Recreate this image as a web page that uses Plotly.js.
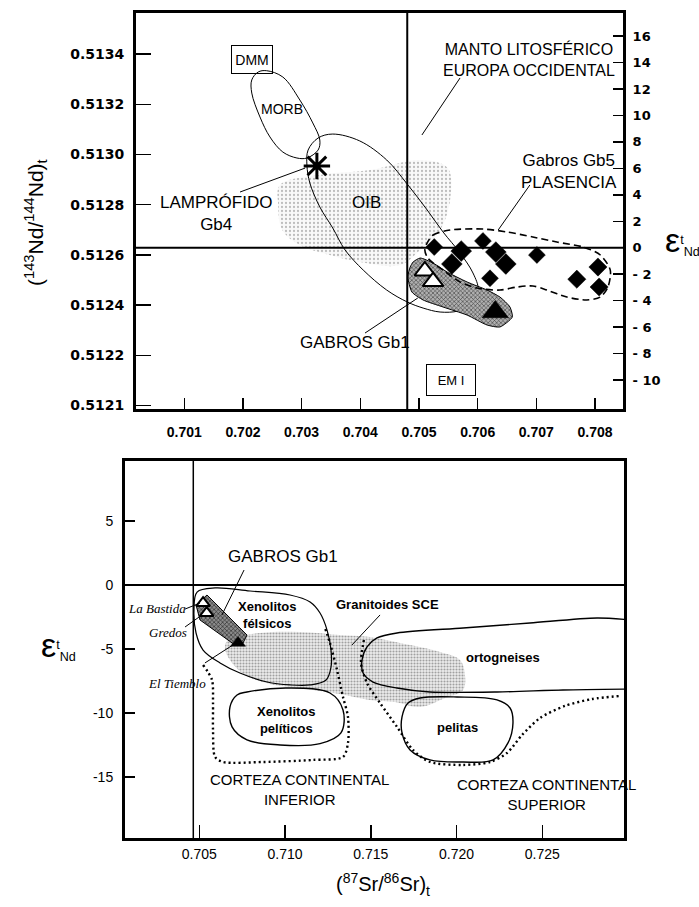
<!DOCTYPE html>
<html><head><meta charset="utf-8">
<script src="https://cdn.plot.ly/plotly-3.0.1.min.js"></script>
<style>html,body{margin:0;padding:0;background:#fff}#chart{width:699px;height:907px}</style>
</head><body><div id="chart"></div>
<script>
// ================= TOP PANEL: (87Sr/86Sr)t vs eNd (right axis) =================
const topSrTicks = [0.701,0.702,0.703,0.704,0.705,0.706,0.707,0.708];
const topSrLabels = ['0.701','0.702','0.703','0.704','0.705','0.706','0.707','0.708'];
const ndTickVals = [0.5120,0.5122,0.5124,0.5126,0.5128,0.5130,0.5132,0.5134];
const ndTickLabels = ['0.5121','0.5122','0.5124','0.5126','0.5128','0.5130','0.5132','0.5134'];
const epsTickVals = [16,14,12,10,8,6,4,2,0,-2,-4,-6,-8,-10];
const epsTickLabels = ['16','14','12','10','8','6','4','2','0','- 2','- 4','- 6','- 8','- 10'];
const chur = 0;         // eNd = 0
const urTop = 0.70480;  // vertical reference line (top)
const urBottom = 0.70465; // vertical reference line (bottom)

const morbSr  = [0.70240,0.70268,0.70297,0.70319,0.70331,0.70328,0.70309,0.70292,0.70268,0.70246,0.70229,0.70215,0.70215,0.70226,0.70240];
const morbEps = [13.38,12.90,11.16,9.43,8.14,7.38,6.78,6.78,7.23,8.37,9.88,11.69,12.68,13.28,13.38];

const oibSr  = [0.70311,0.70328,0.70353,0.70399,0.70445,0.70480,0.70514,0.70541,0.70570,0.70592,0.70601,0.70590,0.70567,0.70536,0.70507,0.70480,0.70445,0.70405,0.70374,0.70353,0.70331,0.70314,0.70309,0.70311];
const oibEps = [7.38,8.29,8.59,8.07,6.63,4.81,2.85,1.19,-0.40,-1.91,-3.20,-4.26,-4.78,-4.86,-4.56,-4.10,-3.20,-1.69,-0.17,1.49,3.08,4.89,6.25,7.38];

const stipSr  = [0.70263,0.70331,0.70417,0.70502,0.70549,0.70553,0.70536,0.70502,0.70468,0.70399,0.70348,0.70297,0.70267,0.70260,0.70263];
const stipEps = [4.74,5.50,5.87,6.63,6.02,3.61,1.34,-0.17,-1.31,-1.08,-0.55,0.20,1.34,3.23,4.74];

const gb5EnvSr  = [0.70514,0.70524,0.70553,0.70609,0.70650,0.70694,0.70735,0.70780,0.70809,0.70826,0.70822,0.70809,0.70786,0.70752,0.70718,0.70694,0.70667,0.70638,0.70599,0.70570,0.70541,0.70515,0.70510,0.70514];
const gb5EnvEps = [0.36,0.96,1.34,1.41,1.19,0.81,0.43,0.05,-0.55,-1.69,-2.97,-3.73,-3.95,-3.73,-3.20,-2.89,-2.97,-3.20,-3.05,-2.59,-1.69,-0.78,-0.17,0.36];

const gb5Sr  = [0.70526,0.70572,0.70556,0.70609,0.70631,0.70648,0.70621,0.70701,0.70769,0.70805,0.70807];
const gb5Eps = [0.05,-0.25,-1.23,0.51,-0.33,-1.23,-2.31,-0.55,-2.38,-1.46,-2.97];

const gb1TopSr  = [0.70490,0.70502,0.70524,0.70548,0.70582,0.70616,0.70638,0.70655,0.70659,0.70638,0.70616,0.70582,0.70541,0.70507,0.70488,0.70481,0.70485,0.70490];
const gb1TopEps = [-1.08,-0.78,-1.16,-1.84,-2.59,-3.20,-3.73,-4.48,-5.24,-5.99,-5.84,-5.09,-4.48,-3.95,-3.35,-2.21,-1.46,-1.08];

const gb1OpenTopSr = [0.70510,0.70524];
const gb1OpenTopEps = [-1.76,-2.56];
const gb1FilledTopSr = [0.70630];
const gb1FilledTopEps = [-4.86];

const lampSr = [0.70326];
const lampEps = [6.18];

// ================= BOTTOM PANEL =================
const botSrTicks = [0.705,0.710,0.715,0.720,0.725];
const botSrLabels = ['0.705','0.710','0.715','0.720','0.725'];
const botEpsTicks = [5,0,-5,-10,-15];
const botEpsLabels = ['5','0','-5','-10','-15'];

const felsSr  = [0.70487,0.70592,0.70796,0.71029,0.71146,0.71204,0.71245,0.71268,0.71268,0.71239,0.71146,0.71029,0.70895,0.70737,0.70621,0.70522,0.70481,0.70469,0.70487];
const felsEps = [-0.55,-0.23,-0.47,-0.78,-1.33,-2.19,-3.52,-5.08,-6.41,-7.42,-7.81,-7.81,-7.58,-6.88,-6.09,-5.08,-3.75,-1.95,-0.55];

const granSr  = [0.70667,0.70854,0.71087,0.71320,0.71495,0.71670,0.71904,0.72020,0.72049,0.72038,0.71933,0.71787,0.71641,0.71495,0.71320,0.71087,0.70912,0.70766,0.70679,0.70650,0.70667];
const granEps = [-4.30,-3.75,-3.67,-3.91,-4.06,-4.53,-5.23,-5.86,-7.03,-8.20,-8.83,-9.53,-9.14,-8.98,-8.52,-8.05,-7.73,-7.03,-5.86,-4.92,-4.30];

const ortoSr  = [0.7302,0.72819,0.72428,0.72038,0.71653,0.71536,0.71478,0.71449,0.71455,0.71513,0.71653,0.71845,0.72236,0.72621,0.7302];
const ortoEps = [-2.73,-2.58,-2.97,-3.36,-3.75,-4.14,-4.84,-5.86,-6.88,-7.58,-8.05,-8.36,-8.36,-8.20,-8.13];

const pelitSr  = [0.70778,0.71011,0.71262,0.71338,0.71326,0.71204,0.70971,0.70778,0.70691,0.70679,0.70720,0.70778];
const pelitEps = [-8.36,-8.05,-8.44,-9.77,-11.56,-12.40,-12.50,-12.10,-11.09,-9.53,-8.59,-8.36];

const pelSr  = [0.71787,0.72003,0.72236,0.72312,0.72329,0.72300,0.72213,0.72038,0.71845,0.71729,0.71682,0.71682,0.71717,0.71787];
const pelEps = [-8.83,-8.75,-8.98,-9.61,-10.78,-12.34,-13.67,-13.83,-13.67,-12.89,-11.56,-10.31,-9.22,-8.83];

const cciSr  = [0.70522,0.70574,0.70580,0.70580,0.70592,0.70638,0.70871,0.71163,0.71338,0.71367,0.71367,0.71338,0.71303,0.71262,0.71233];
const cciEps = [-6.25,-7.42,-9.22,-11.33,-13.44,-13.83,-13.83,-13.67,-13.44,-12.34,-10.31,-8.75,-6.64,-4.53,-3.36];

const ccsSr  = [0.71460,0.71443,0.71478,0.71554,0.71653,0.71746,0.71845,0.72038,0.72195,0.72294,0.72382,0.72487,0.72632,0.72790,0.72953];
const ccsEps = [-4.30,-6.09,-7.66,-9.22,-11.09,-12.89,-13.83,-14.06,-13.83,-13.13,-11.72,-10.39,-9.45,-8.91,-8.67];

const gb1BotSr  = [0.70545,0.70778,0.70755,0.70708,0.70504,0.70481,0.70545];
const gb1BotEps = [-0.78,-3.91,-4.53,-4.69,-2.73,-1.56,-0.78];

const gb1OpenBotSr = [0.70522,0.70543];
const gb1OpenBotEps = [-1.41,-2.19];
const gb1FilledBotSr = [0.70726];
const gb1FilledBotEps = [-4.53];

// ================= traces =================
const SANS = 'Liberation Sans, Arial, sans-serif';
const T = {xaxis:'x', yaxis:'y2'};
const B = {xaxis:'x2', yaxis:'y3'};
function poly(ax, xs, ys, o){
  return Object.assign({type:'scatter', mode:'lines', x:xs, y:ys, hoverinfo:'skip', showlegend:false}, ax, o);
}
function pts(ax, xs, ys, marker){
  return Object.assign({type:'scatter', mode:'markers', x:xs, y:ys, hoverinfo:'skip', showlegend:false, opacity:1,
    marker:Object.assign({opacity:1}, marker)}, ax);
}
const DOTS = '2px,3px';
const traces = [
  // empty trace so that the Nd (left) axis subplot exists
  {type:'scatter', mode:'markers', x:[], y:[], xaxis:'x', yaxis:'y', showlegend:false, hoverinfo:'skip'},
  // top stipple
  poly(T, stipSr, stipEps, {fill:'toself', fillcolor:'rgba(238,238,238,0.5)', line:{width:0, shape:'spline'},
      fillpattern:{shape:'.', fgcolor:'#bdbdbd', bgcolor:'rgba(244,244,244,0.5)', size:4, solidity:0.25}}),
  poly(T, morbSr, morbEps, {line:{color:'#000', width:1, shape:'spline', smoothing:1}}),
  poly(T, oibSr, oibEps, {line:{color:'#000', width:1, shape:'spline', smoothing:1}}),
  poly(T, gb1TopSr, gb1TopEps, {fill:'toself', fillcolor:'#a0a0a0', line:{color:'#000', width:1, shape:'spline', smoothing:0.6},
      fillpattern:{shape:'x', fgcolor:'#3a3a3a', bgcolor:'#b0b0b0', size:3, solidity:0.35}}),
  poly(T, gb5EnvSr, gb5EnvEps, {line:{color:'#000', width:1.6, dash:'7px,4px', shape:'spline', smoothing:0.8}}),
  pts(T, gb5Sr, gb5Eps, {symbol:'diamond', color:'#000', size:[13,16,16,13,16,16,13,13,14,14,14], line:{color:'#000', width:0.5}}),
  pts(T, gb1OpenTopSr, gb1OpenTopEps, {symbol:'triangle-up', color:'#fff', size:18, line:{color:'#000', width:2}}),
  pts(T, gb1FilledTopSr, gb1FilledTopEps, {symbol:'triangle-up', color:'#000', size:23, line:{color:'#000', width:0.5}}),
  pts(T, lampSr, lampEps, {symbol:'asterisk-open', color:'#000', size:22, line:{color:'#000', width:3}}),

  // bottom
  poly(B, granSr, granEps, {fill:'toself', fillcolor:'rgba(210,210,210,0.6)', line:{width:0, shape:'spline'},
      fillpattern:{shape:'.', fgcolor:'#a0a0a0', bgcolor:'rgba(228,228,228,0.7)', size:3, solidity:0.4}}),
  poly(B, felsSr, felsEps, {line:{color:'#000', width:1.2, shape:'spline', smoothing:1}}),
  poly(B, ortoSr, ortoEps, {line:{color:'#000', width:1.4, shape:'spline', smoothing:0.8}}),
  poly(B, pelitSr, pelitEps, {line:{color:'#000', width:1.4, shape:'spline', smoothing:1}}),
  poly(B, pelSr, pelEps, {line:{color:'#000', width:1.4, shape:'spline', smoothing:1}}),
  poly(B, cciSr, cciEps, {line:{color:'#000', width:2.4, dash:DOTS, shape:'spline', smoothing:0.8}}),
  poly(B, ccsSr, ccsEps, {line:{color:'#000', width:2.4, dash:DOTS, shape:'spline', smoothing:0.8}}),
  poly(B, gb1BotSr, gb1BotEps, {fill:'toself', fillcolor:'#7a7a7a', line:{color:'#000', width:1},
      fillpattern:{shape:'x', fgcolor:'#222', bgcolor:'#8a8a8a', size:3, solidity:0.35}}),
  pts(B, gb1OpenBotSr, gb1OpenBotEps, {symbol:'triangle-up', color:'#fff', size:12, line:{color:'#000', width:2}}),
  pts(B, gb1FilledBotSr, gb1FilledBotEps, {symbol:'triangle-up', color:'#000', size:13, line:{color:'#000', width:0.5}})
];

// ================= annotations =================
function lbl(xref, yref, x, y, text, size, extra){
  return Object.assign({xref:xref, yref:yref, x:x, y:y, text:text, showarrow:false,
    font:{family:SANS, size:size, color:'#000'}, xanchor:'center', yanchor:'middle'}, extra||{});
}
const ital = {family:'Liberation Serif, Times New Roman, serif', size:13, color:'#000'};
const annotations = [
  // top panel
  lbl('x','y2',0.70215,14.19,'DMM',14,{bordercolor:'#000',borderwidth:1,borderpad:3,width:34,height:21}),
  lbl('x','y2',0.70267,10.48,'MORB',14),
  lbl('x','y2',0.70154,2.62,'LAMPRÓFIDO<br>Gb4',17),
  lbl('x','y2',0.70411,3.38,'OIB',17),
  lbl('x','y2',0.70688,14.19,'MANTO LITOSFÉRICO<br>EUROPA OCCIDENTAL',16),
  lbl('x','y2',0.70756,5.76,'Gabros Gb5<br>PLASENCIA',17),
  lbl('x','y2',0.70391,-7.13,'GABROS Gb1',17),
  lbl('x','y2',0.70555,-10.0,'EM I',13,{bordercolor:'#000',borderwidth:1,borderpad:4,width:40,height:22}),
  // bottom panel
  lbl('x2','y3',0.70988,2.19,'GABROS Gb1',17),
  lbl('x2','y3',0.70895,-2.34,'<b>Xenolitos<br>félsicos</b>',13),
  lbl('x2','y3',0.71600,-1.56,'<b>Granitoides SCE</b>',13),
  lbl('x2','y3',0.72271,-5.70,'<b>ortogneises</b>',13),
  lbl('x2','y3',0.71011,-10.55,'<b>Xenolitos<br>pelíticos</b>',13),
  lbl('x2','y3',0.72008,-11.17,'<b>pelitas</b>',13),
  lbl('x2','y3',0.71087,-16.0,'CORTEZA CONTINENTAL<br>INFERIOR',15),
  lbl('x2','y3',0.72522,-16.4,'CORTEZA CONTINENTAL<br>SUPERIOR',15),
  Object.assign(lbl('x2','y3',0.70253,-1.80,'<i>La Bastida</i>',13),{font:ital}),
  Object.assign(lbl('x2','y3',0.70317,-3.75,'<i>Gredos</i>',13),{font:ital}),
  Object.assign(lbl('x2','y3',0.70370,-7.66,'<i>El Tiemblo</i>',13),{font:ital}),
  // axis titles
  lbl('paper','paper',0.050,0.7552,'(<sup>143</sup>Nd/<sup>144</sup>Nd)<sub>t</sub>',21,{textangle:-90}),
  lbl('paper','paper',0.977,0.7354,'<span style="font-size:34px">ε</span><sup>t</sup><sub>Nd</sub>',18),
  lbl('paper','paper',0.083,0.2889,'<span style="font-size:34px">ε</span><sup>t</sup><sub>Nd</sub>',18),
  lbl('paper','paper',0.548,0.0243,'(<sup>87</sup>Sr/<sup>86</sup>Sr)<sub>t</sub>',20)
];

// leader lines from labels to their fields: [x0, y0, x1, y1]
const topLeaders = [
  [0.70195,4.21,0.70306,6.02],
  [0.70570,12.83,0.70505,8.52],
  [0.70689,4.74,0.70635,1.34],
  [0.70408,-6.45,0.70498,-3.80]
];
const botLeaders = [
  [0.70761,1.17,0.70632,-2.34],
  [0.71554,-2.34,0.71390,-4.69],
  [0.70417,-1.88,0.70504,-1.41],
  [0.70417,-3.28,0.70516,-2.34],
  [0.70533,-6.09,0.70714,-4.53]
];
const shapes = [
  {type:'line', xref:'x domain', yref:'y2', x0:0, x1:1, y0:chur, y1:chur, line:{color:'#000', width:2}},
  {type:'line', xref:'x', yref:'y domain', x0:urTop, x1:urTop, y0:0, y1:1, line:{color:'#000', width:2}},
  {type:'line', xref:'x2 domain', yref:'y3', x0:0, x1:1, y0:chur, y1:chur, line:{color:'#000', width:2}},
  {type:'line', xref:'x2', yref:'y3 domain', x0:urBottom, x1:urBottom, y0:0, y1:1, line:{color:'#000', width:1.5}}
];
topLeaders.forEach(l => shapes.push({type:'line', xref:'x', yref:'y2', x0:l[0], y0:l[1], x1:l[2], y1:l[3], line:{color:'#000', width:1}}));
botLeaders.forEach(l => shapes.push({type:'line', xref:'x2', yref:'y3', x0:l[0], y0:l[1], x1:l[2], y1:l[3], line:{color:'#000', width:1}}));

const boldTick = {family:'DejaVu Sans, sans-serif', size:14, color:'#000', weight:'bold'};
const frame = {showline:true, linecolor:'#000', linewidth:3, mirror:true, showgrid:false, zeroline:false,
  ticks:'inside', tickcolor:'#000', automargin:false};

const layout = {
  width:699, height:907, margin:{l:0, r:0, t:0, b:0},
  paper_bgcolor:'#fff', plot_bgcolor:'rgba(0,0,0,0)', showlegend:false,
  font:{family:SANS, color:'#000'},
  xaxis: Object.assign({}, frame, {domain:[0.19456,0.89127], anchor:'y', range:[0.700177,0.708477],
    tickmode:'array', tickvals:topSrTicks, ticktext:topSrLabels, ticklen:11, tickwidth:1.5,
    tickfont:{family:SANS, size:14, color:'#000', weight:'bold'}, ticklabelstandoff:8}),
  yaxis: Object.assign({}, frame, {domain:[0.54906,0.98567], anchor:'x', range:[0.511986,0.513564],
    tickmode:'array', tickvals:ndTickVals, ticktext:ndTickLabels, ticklen:15, tickwidth:1.5,
    tickfont:boldTick, ticklabelstandoff:6}),
  yaxis2: Object.assign({}, frame, {overlaying:'y', side:'right', anchor:'x', range:[-12.19,17.74],
    mirror:false, tickmode:'array', tickvals:epsTickVals, ticktext:epsTickLabels, ticklen:10, tickwidth:1.5,
    tickfont:{family:'DejaVu Sans, sans-serif', size:13, color:'#000', weight:'bold'}, ticklabelstandoff:4}),
  xaxis2: Object.assign({}, frame, {domain:[0.17883,0.89270], anchor:'y3', range:[0.700668,0.729764],
    tickmode:'array', tickvals:botSrTicks, ticktext:botSrLabels, ticklen:13, tickwidth:1.5,
    tickfont:{family:SANS, size:14, color:'#000'}, ticklabelstandoff:1}),
  yaxis3: Object.assign({}, frame, {domain:[0.07607,0.49173], anchor:'x2', range:[-19.77,9.69],
    tickmode:'array', tickvals:botEpsTicks, ticktext:botEpsLabels, ticklen:10, tickwidth:1.5,
    tickfont:{family:SANS, size:14, color:'#000'}, ticklabelstandoff:6}),
  annotations: annotations,
  shapes: shapes
};

Plotly.newPlot('chart', traces, layout, {displayModeBar:false, staticPlot:true});
</script></body></html>
